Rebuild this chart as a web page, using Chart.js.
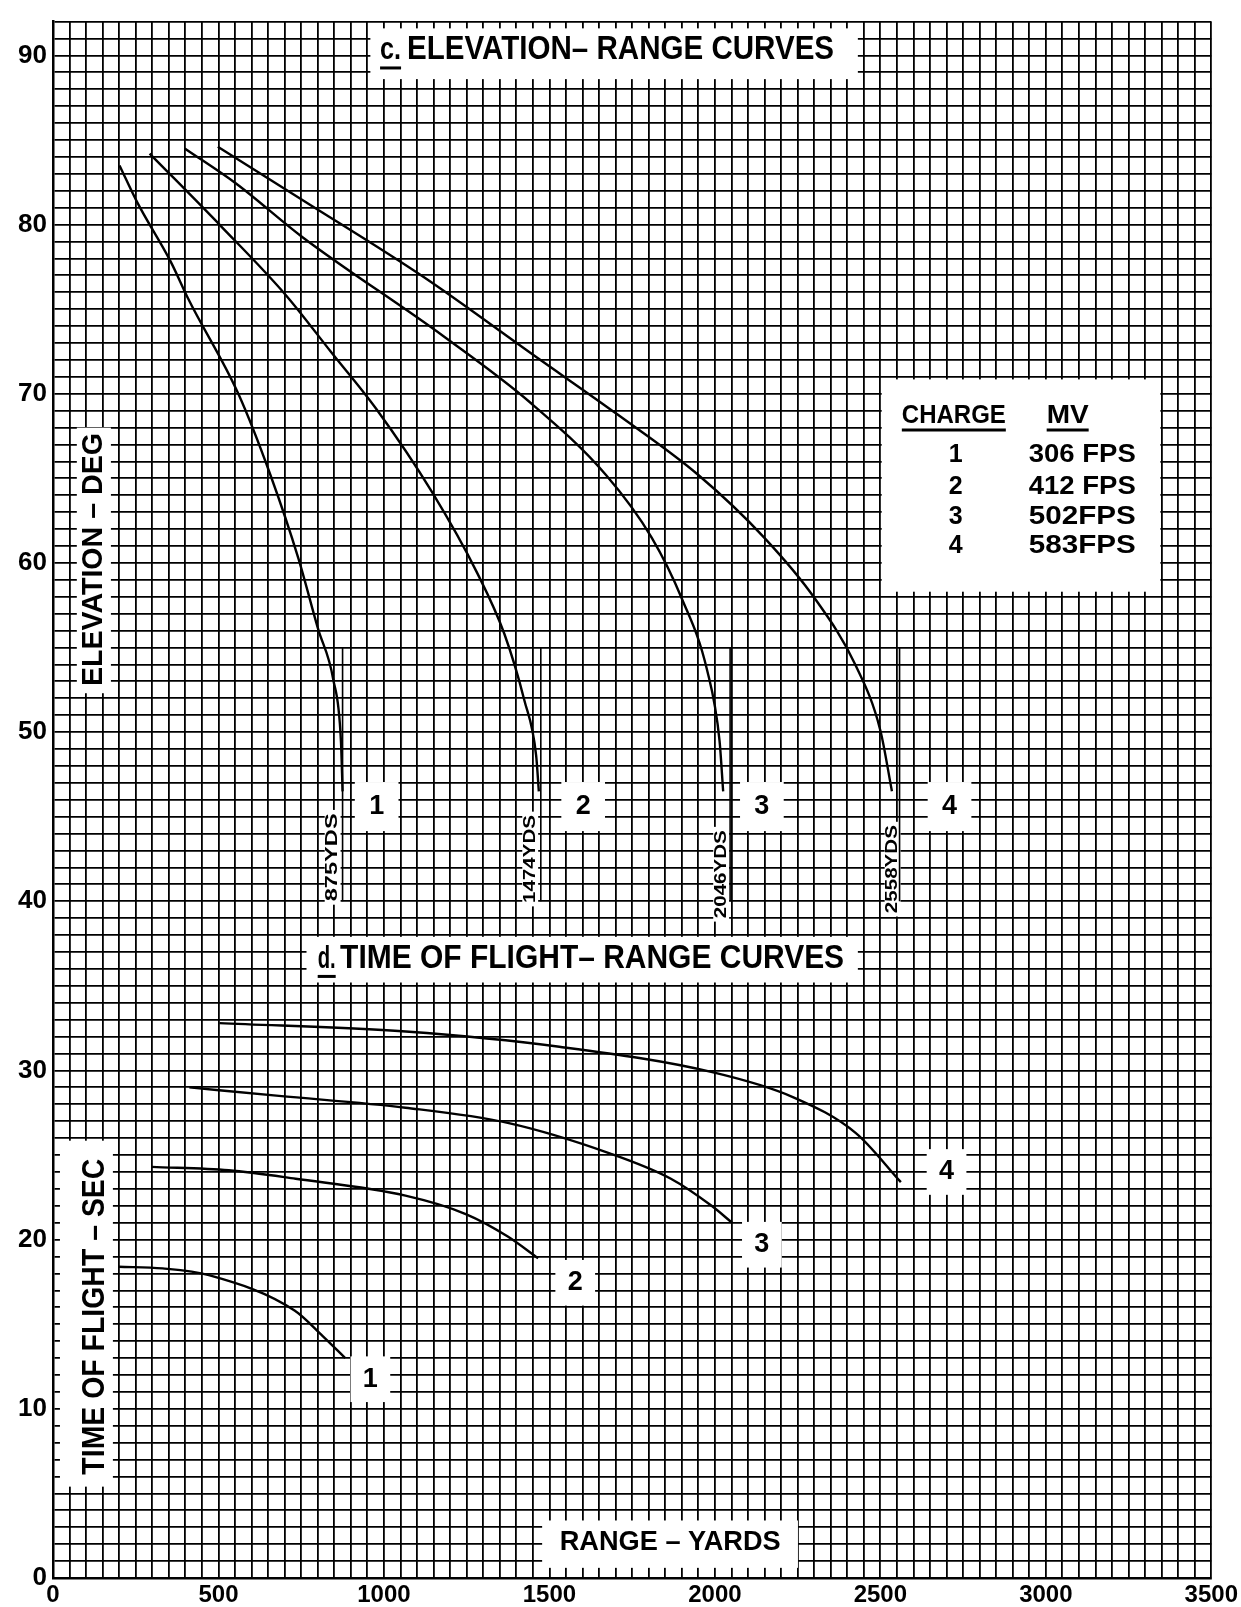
<!DOCTYPE html>
<html><head><meta charset="utf-8">
<script src="https://cdn.jsdelivr.net/npm/chart.js@4.4.1/dist/chart.umd.min.js"></script>
<style>html,body{margin:0;padding:0;background:#fff;}#wrap{width:1241px;height:1607px;position:relative;}</style>
</head><body><div id="wrap"><canvas id="c"></canvas></div>
<script>
// ---------- axes ----------
const xMin = 0, xMax = 3500, xStep = 50, xLabelEvery = 500;
const yMin = 0, yMax = 92, yStep = 1, yLabelEvery = 10, yLabelMax = 90;

// ---------- legend table ----------
const charges = ['1', '2', '3', '4'];
const muzzleVelocity = ['306 FPS', '412 FPS', '502FPS', '583FPS'];
const maxRangeYds = [875, 1474, 2046, 2558];
const maxRangeText = ['875YDS', '1474YDS', '2046YDS', '2558YDS'];
const maxRangeLineFrom = 40, maxRangeLineTo = 55;

// ---------- c. elevation - range curves (x = yards, y = degrees) ----------
const elevRange1 = [201, 255, 356, 409, 560, 657, 741, 801, 847, 870, 875];
const elevDeg1   = [83.5, 81.3, 77.8, 75.6, 70.0, 65.2, 60.3, 56.1, 53.1, 49.5, 46.5];
const elevRange2 = [292, 508, 705, 839, 977, 1145, 1282, 1364, 1424, 1460, 1468];
const elevDeg2   = [84.2, 79.9, 75.8, 72.5, 69.1, 64.2, 59.4, 55.8, 51.9, 48.6, 46.5];
const elevRange3 = [398, 555, 751, 1180, 1441, 1671, 1809, 1900, 1976, 2014, 2025];
const elevDeg3   = [84.5, 82.4, 79.3, 73.4, 69.5, 65.2, 61.5, 57.9, 53.7, 49.5, 46.5];
const elevRange4 = [498, 750, 1120, 1458, 1704, 1950, 2149, 2302, 2424, 2500, 2535];
const elevDeg4   = [84.6, 81.5, 76.9, 72.2, 68.8, 65.2, 61.5, 57.9, 54.0, 50.1, 46.5];

// ---------- d. time of flight - range curves (x = yards, y = seconds) ----------
const tofRange1 = [198, 331, 471, 731, 815, 883];
const tofSec1   = [18.4, 18.3, 17.9, 15.8, 14.3, 13.0];
const tofRange2 = [299, 531, 733, 1065, 1249, 1373, 1466];
const tofSec2   = [24.3, 24.1, 23.6, 22.6, 21.5, 20.2, 18.9];
const tofRange3 = [412, 683, 1065, 1374, 1682, 1867, 1990, 2052];
const tofSec3   = [29.0, 28.5, 27.8, 26.9, 25.1, 23.6, 22.0, 21.0];
const tofRange4 = [503, 1066, 1530, 1992, 2239, 2426, 2562];
const tofSec4   = [32.8, 32.3, 31.4, 29.9, 28.4, 26.3, 23.4];

// ---------- text placed on the chart (anchors in data units) ----------
const titleC = ['c.', 'ELEVATION\u2013 RANGE CURVES'];
const titleD = ['d.', 'TIME OF FLIGHT\u2013 RANGE CURVES'];
const yTitleElev = 'ELEVATION \u2013 DEG';
const yTitleTof = 'TIME OF FLIGHT \u2013 SEC';
const xTitle = 'RANGE \u2013 YARDS';
const legendHead = ['CHARGE', 'MV'];

const elevLabelX = [978, 1602, 2142, 2709];
const elevLabelY = [45.6, 45.6, 45.6, 45.6];
const tofLabelX = [959, 1578, 2142, 2700];
const tofLabelY = [11.75, 17.45, 19.7, 24.0];
const yardsLabelX = [845, 1442, 2019, 2537];
const yardsLabelY = [42.6, 42.5, 41.6, 41.9];
const legendRowY = [66.4, 64.5, 62.7, 61.0];

const pts = (xs, ys) => xs.map((x, i) => ({x: x, y: ys[i]}));
const curveStyle = {borderColor: '#000', borderWidth: 2.4, pointRadius: 0, showLine: true, fill: false,
  cubicInterpolationMode: 'monotone'};

const datasets = [
  Object.assign({label: 'Elevation 1', data: pts(elevRange1, elevDeg1)}, curveStyle),
  Object.assign({label: 'Elevation 2', data: pts(elevRange2, elevDeg2)}, curveStyle),
  Object.assign({label: 'Elevation 3', data: pts(elevRange3, elevDeg3)}, curveStyle),
  Object.assign({label: 'Elevation 4', data: pts(elevRange4, elevDeg4)}, curveStyle),
  Object.assign({label: 'Time 1', data: pts(tofRange1, tofSec1)}, curveStyle),
  Object.assign({label: 'Time 2', data: pts(tofRange2, tofSec2)}, curveStyle),
  Object.assign({label: 'Time 3', data: pts(tofRange3, tofSec3)}, curveStyle),
  Object.assign({label: 'Time 4', data: pts(tofRange4, tofSec4)}, curveStyle)
];
maxRangeYds.forEach((r, i) => {
  datasets.push({label: 'Max range ' + charges[i], data: [{x: r, y: maxRangeLineFrom}, {x: r, y: maxRangeLineTo}],
    borderColor: '#000', borderWidth: 1.6, pointRadius: 0, showLine: true, tension: 0});
});

const FONT = '"Liberation Sans", Arial, sans-serif';

// white patches (data units)
const boxes = [
  {x1: 959, x2: 2432, y1: 88.6, y2: 91.6},     // title c
  {x1: 766, x2: 2432, y1: 35.2, y2: 37.9},     // title d
  {x1: 72, x2: 175, y1: 52.3, y2: 68.0},       // elevation axis title
  {x1: 21, x2: 181, y1: 5.4, y2: 25.85},       // time axis title
  {x1: 1478, x2: 2251, y1: 0.6, y2: 3.4},      // range axis title
  {x1: 2504, x2: 3346, y1: 58.3, y2: 70.85}    // legend table
];
elevLabelX.forEach((x, i) => boxes.push({x1: x - 66, x2: x + 66, y1: elevLabelY[i] - 1.45, y2: elevLabelY[i] + 1.45}));
tofLabelX.forEach((x, i) => boxes.push({x1: x - 60, x2: x + 60, y1: tofLabelY[i] - 1.35, y2: tofLabelY[i] + 1.35}));
yardsLabelX.forEach((x, i) => boxes.push({x1: x - 24, x2: x + 24, y1: yardsLabelY[i] - 2.8, y2: yardsLabelY[i] + 2.8}));

// texts: [text, x, y, fontPx, widthPx, rotate, underline]
const texts = [
  [titleC[0], 1020, 90.3, 32, 21, 0, true],
  [titleC[1], 1715, 90.3, 33, 427, 0, false],
  [titleD[0], 827, 36.6, 32, 18, 0, true],
  [titleD[1], 1629, 36.6, 33, 504, 0, false],
  [yTitleElev, 124, 60.2, 30, 253, -Math.PI / 2, false],
  [yTitleTof, 127, 15.45, 32, 316, -Math.PI / 2, false],
  [xTitle, 1865, 2.1, 28, 221, 0, false],
  [legendHead[0], 2722, 68.7, 26, 104, 0, true],
  [legendHead[1], 3066, 68.7, 26, 42, 0, true]
];
charges.forEach((c, i) => {
  texts.push([c, 2728, legendRowY[i], 25, 0, 0, false]);
  texts.push([muzzleVelocity[i], 3110, legendRowY[i], 25, 107, 0, false]);
  texts.push([c, elevLabelX[i], elevLabelY[i], 27, 0, 0, false]);
  texts.push([c, tofLabelX[i], tofLabelY[i], 27, 0, 0, false]);
  texts.push([maxRangeText[i], yardsLabelX[i], yardsLabelY[i], 17, 88, -Math.PI / 2, false]);
});

const notes = {
  id: 'notes',
  beforeDatasetsDraw(chart) {
    const {ctx, scales: {x, y}} = chart;
    ctx.save();
    ctx.fillStyle = '#fff';
    boxes.forEach(b => {
      const px1 = x.getPixelForValue(b.x1), px2 = x.getPixelForValue(b.x2);
      const py1 = y.getPixelForValue(b.y2), py2 = y.getPixelForValue(b.y1);
      ctx.fillRect(px1, py1, px2 - px1, py2 - py1);
    });
    ctx.restore();
  },
  afterDatasetsDraw(chart) {
    const {ctx, scales: {x, y}} = chart;
    texts.forEach(t => {
      const [str, dx, dy, size, w, rot, ul] = t;
      ctx.save();
      ctx.translate(x.getPixelForValue(dx), y.getPixelForValue(dy));
      if (rot) ctx.rotate(rot);
      ctx.font = 'bold ' + size + 'px ' + FONT;
      ctx.fillStyle = '#000';
      ctx.textAlign = 'center';
      ctx.textBaseline = 'middle';
      const natural = ctx.measureText(str).width;
      const target = w || natural;
      ctx.scale(target / natural, 1);
      ctx.fillText(str, 0, 0);
      if (ul) {
        ctx.lineWidth = 3;
        ctx.strokeStyle = '#000';
        ctx.beginPath();
        ctx.moveTo(-natural / 2, size * 0.55);
        ctx.lineTo(natural / 2, size * 0.55);
        ctx.stroke();
      }
      ctx.restore();
    });
  }
};

Chart.defaults.font.family = FONT;
Chart.defaults.color = '#000';

new Chart(document.getElementById('c'), {
  type: 'scatter',
  data: {datasets: datasets},
  options: {
    responsive: true,
    maintainAspectRatio: false,
    animation: false,
    events: [],
    layout: {padding: {left: 0, top: 12, right: 28, bottom: 0}},
    plugins: {legend: {display: false}, tooltip: {enabled: false}, title: {display: false}},
    scales: {
      x: {
        type: 'linear', min: xMin, max: xMax,
        afterFit: s => { s.height = 29; },
        border: {display: true, color: '#000', width: 2.5},
        grid: {color: '#000', lineWidth: 1.8, drawTicks: false},
        ticks: {stepSize: xStep, autoSkip: false, maxRotation: 0, maxTicksLimit: 1000, padding: 3,
          font: {size: 24, weight: 'bold'}, color: '#000',
          callback: v => (v % xLabelEvery === 0 ? String(v) : '')}
      },
      y: {
        type: 'linear', min: yMin, max: yMax,
        afterFit: s => { s.width = 53; },
        border: {display: true, color: '#000', width: 2.5},
        grid: {color: '#000', lineWidth: 1.8, drawTicks: false},
        ticks: {stepSize: yStep, autoSkip: false, maxTicksLimit: 1000, padding: 6,
          font: {size: 26, weight: 'bold'}, color: '#000',
          callback: v => (v % yLabelEvery === 0 && v <= yLabelMax ? String(v) : '')}
      }
    }
  },
  plugins: [notes]
});
</script>
</body></html>
